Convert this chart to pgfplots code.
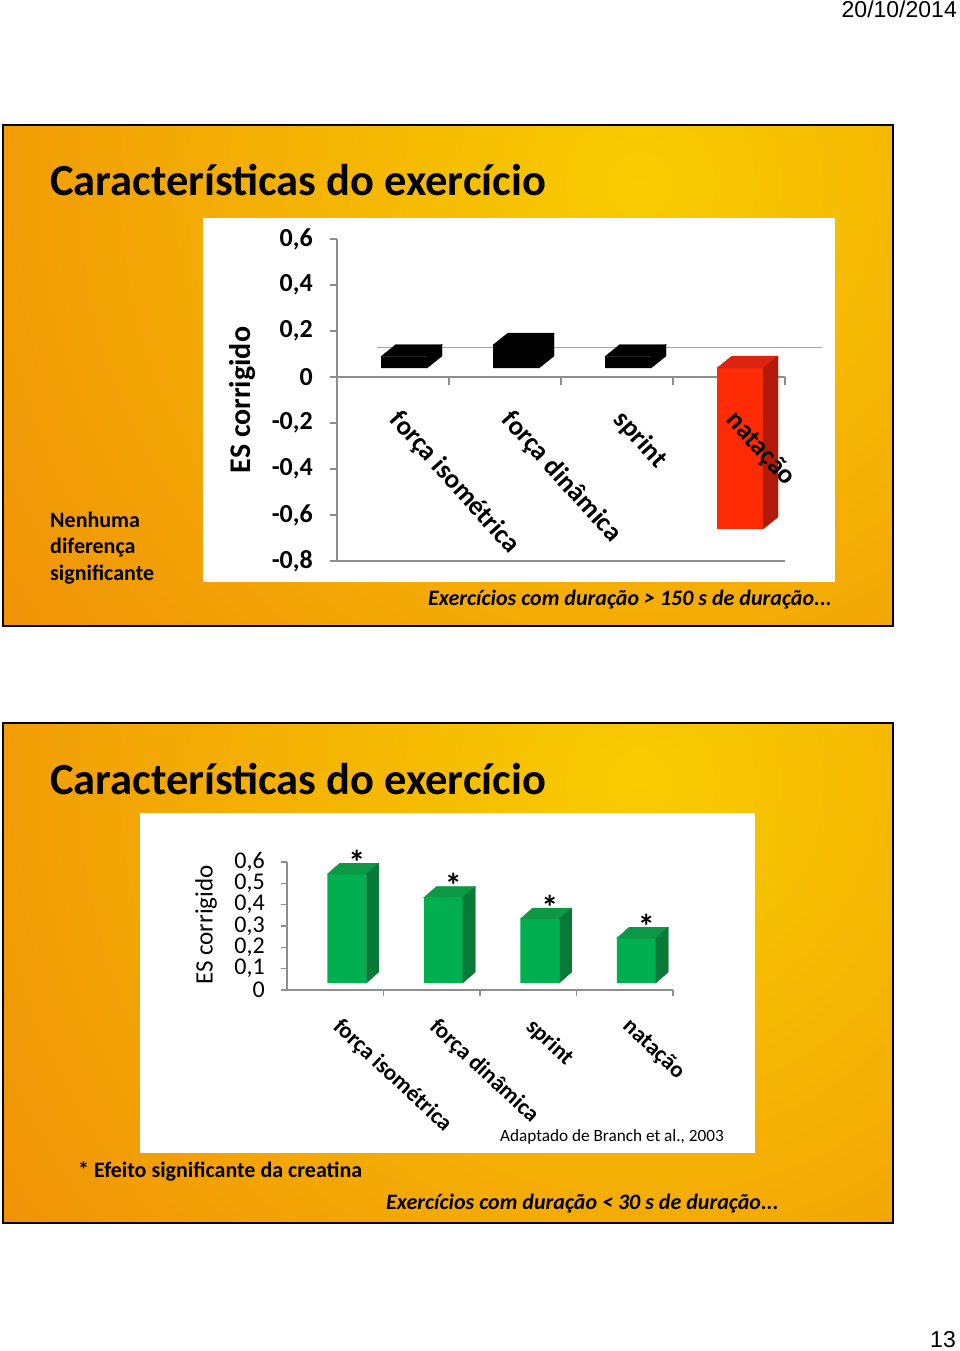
\documentclass[border=0pt]{standalone}
\usepackage{pgfplots}
\pgfplotsset{compat=1.18}
\usepackage{pgfplotstable}
\usepackage{fontspec}
\setmainfont{Carlito}
\newfontfamily\arialf{Liberation Sans}

\definecolor{orgA}{HTML}{EE820A}
\definecolor{yelA}{HTML}{F8CC00}
\definecolor{axgray}{HTML}{8E8E8E}
\definecolor{redF}{HTML}{FF2B05}
\definecolor{redT}{HTML}{DA2410}
\definecolor{redS}{HTML}{B21A08}
\definecolor{grnF}{HTML}{00B050}
\definecolor{grnT}{HTML}{0D9845}
\definecolor{grnS}{HTML}{077A37}

\pgfplotstableread{
x v
0 0.05
1 0.10
2 0.05
}\blackdata
\pgfplotstableread{
x v
3 -0.70
}\reddata
\pgfplotstableread{
x v
0 0.51
1 0.40
2 0.30
3 0.21
}\greendata

\pgfplotsset{
  box3d/.style n args={6}{%
    scatter, only marks, mark=*, mark size=0pt,
    mark options={draw=none, fill=none},
    visualization depends on={y \as \val},
    scatter/@pre marker code/.code={%
      \pgfmathsetmacro\hh{\val*#1}%
      \pgfmathsetmacro\topy{max(0,-\hh)}%
      \pgfmathsetmacro\boty{min(0,-\hh)}%
      \fill[#5] (-#2pt,\topy pt) -- (-#2pt+#3pt,\topy pt+#4pt)
        -- (#2pt+#3pt,\topy pt+#4pt) -- (#2pt,\topy pt) -- cycle;
      \fill[#6] (#2pt,\topy pt) -- (#2pt+#3pt,\topy pt+#4pt)
        -- (#2pt+#3pt,\boty pt+#4pt) -- (#2pt,\boty pt) -- cycle;
    },
    scatter/@post marker code/.code={},
  },
}

\begin{document}
\begin{tikzpicture}
\path[use as bounding box] (0pt,0pt) rectangle (960pt,-1351pt);
\begin{scope}[x=1pt,y=-1pt]
  % slide 1 background
  \begin{scope}
    \clip (3,125) rectangle (893,626);
    \fill[orgA] (3,125) rectangle (893,626);
    \shade[inner color=yelA, outer color=orgA] (640,185) circle (1000pt);
  \end{scope}
  \draw[black, line width=2pt] (3,125) rectangle (893,626);
  \fill[white] (203,218) rectangle (835,582);
  % slide 2 background
  \begin{scope}
    \clip (3,723) rectangle (893,1223);
    \fill[orgA] (3,723) rectangle (893,1223);
    \shade[inner color=yelA, outer color=orgA] (640,783) circle (1000pt);
  \end{scope}
  \draw[black, line width=2pt] (3,723) rectangle (893,1223);
  \fill[white] (140,813) rectangle (755,1153);
\end{scope}

% ---------- chart 1 ----------
\begin{axis}[
  at={(337pt,-561pt)}, anchor=south west,
  x=112pt, y=230pt,
  xmin=-0.5, xmax=3.5, ymin=-0.8, ymax=0.6,
  clip=false,
  axis x line=none, axis y line*=left,
  y axis line style={axgray, line width=1.3pt},
  ytick={-0.8,-0.6,-0.4,-0.2,0,0.2,0.4,0.6},
  yticklabels={{-0,8},{-0,6},{-0,4},{-0,2},0,{0,2},{0,4},{0,6}},
  xtick=\empty,
  tick align=outside, major tick length=7pt,
  ytick style={axgray, line width=1.3pt},
  yticklabel style={font=\bfseries\fontsize{26}{28}\selectfont, inner sep=0pt, xshift=-17pt},
]
\draw[axgray!80, line width=1pt] (axis cs:-0.14,0.13) -- (axis cs:3.83,0.13);
\draw[axgray, line width=1.3pt] (axis cs:-0.5,0) -- (axis cs:3.5,0);
\draw[axgray, line width=1.3pt] (axis cs:-0.5,-0.8) -- (axis cs:3.5,-0.8);
\pgfplotsinvokeforeach{0.5,1.5,2.5,3.5}{%
  \draw[axgray, line width=1.3pt] (axis cs:#1,0) -- ++(0pt,-8pt);
}
\addplot[box3d={230}{23}{15}{12}{black}{black}, xshift=11pt, yshift=9pt] table[x=x,y=v]{\blackdata};
\addplot[ybar, bar width=46pt, bar shift=0pt, fill=black, draw=none, xshift=11pt, yshift=9pt] table[x=x,y=v]{\blackdata};
\addplot[box3d={230}{23}{15}{12}{redT}{redS}, xshift=11pt, yshift=9pt] table[x=x,y=v]{\reddata};
\addplot[ybar, bar width=46pt, bar shift=0pt, fill=redF, draw=none, xshift=11pt, yshift=9pt] table[x=x,y=v]{\reddata};
\end{axis}

% ---------- chart 2 ----------
\begin{axis}[
  at={(287pt,-990pt)}, anchor=south west,
  x=96.5pt, y=213.3pt,
  xmin=-0.5, xmax=3.5, ymin=0, ymax=0.6,
  clip=false,
  axis x line=none, axis y line*=left,
  y axis line style={axgray, line width=1.3pt},
  ytick={0,0.1,0.2,0.3,0.4,0.5,0.6},
  yticklabels={0,{0,1},{0,2},{0,3},{0,4},{0,5},{0,6}},
  xtick=\empty,
  tick align=outside, major tick length=6pt,
  ytick style={axgray, line width=1.3pt},
  yticklabel style={font=\fontsize{24}{26}\selectfont, inner sep=0pt, xshift=-16pt},
]
\draw[axgray, line width=1.3pt] (axis cs:-0.5,0) -- (axis cs:3.5,0);
\pgfplotsinvokeforeach{0.5,1.5,2.5,3.5}{%
  \draw[axgray, line width=1.3pt] (axis cs:#1,0) -- ++(0pt,-6pt);
}
\addplot[box3d={213.3}{19.5}{12.5}{11}{grnT}{grnS}, xshift=11.5pt, yshift=7pt] table[x=x,y=v]{\greendata};
\addplot[ybar, bar width=39pt, bar shift=0pt, fill=grnF, draw=none, xshift=11.5pt, yshift=7pt,
  nodes near coords={*},
  every node near coord/.style={anchor=base, xshift=10pt, yshift=0pt, inner sep=0pt, font=\bfseries\fontsize{34}{36}\selectfont, text=black}]
  table[x=x,y=v]{\greendata};
\end{axis}

\begin{scope}[x=1pt,y=-1pt]
  % category labels chart 1
  \begin{scope}[every node/.style={rotate=-48, anchor=north west, inner sep=0pt, font=\bfseries\fontsize{27}{30}\selectfont}]
    \node at (403,408) {força isométrica};
    \node at (515,408) {força dinâmica};
    \node at (627,408) {sprint};
    \node at (739,408) {natação};
  \end{scope}
  % category labels chart 2
  \begin{scope}[every node/.style={rotate=-43, anchor=north west, inner sep=0pt, font=\bfseries\fontsize{23}{26}\selectfont}]
    \node at (343,1016) {força isométrica};
    \node at (439.5,1016) {força dinâmica};
    \node at (536,1016) {sprint};
    \node at (632.5,1016) {natação};
  \end{scope}
  \node[anchor=base east, inner sep=0pt, font=\arialf\fontsize{23}{26}\selectfont] at (957,18) {20/10/2014};
  \node[anchor=base east, inner sep=0pt, font=\arialf\fontsize{23}{26}\selectfont] at (956,1347) {13};
  \node[anchor=base west, inner sep=0pt, font=\bfseries\fontsize{44.5}{50}\selectfont] at (50,196) {Características do exercício};
  \node[anchor=base west, inner sep=0pt, font=\bfseries\fontsize{44.5}{50}\selectfont] at (50,794) {Características do exercício};
  \node[rotate=90, font=\bfseries\fontsize{30}{32}\selectfont] at (243,400) {ES corrigido};
  \node[rotate=90, font=\fontsize{25}{28}\selectfont] at (206,925) {ES corrigido};
  \node[anchor=base west, inner sep=0pt, font=\bfseries\fontsize{22}{26}\selectfont] at (50,527) {Nenhuma};
  \node[anchor=base west, inner sep=0pt, font=\bfseries\fontsize{22}{26}\selectfont] at (50,553) {diferença};
  \node[anchor=base west, inner sep=0pt, font=\bfseries\fontsize{22}{26}\selectfont] at (50,580) {significante};
  \node[anchor=base west, inner sep=0pt, font=\bfseries\itshape\fontsize{22}{26}\selectfont] at (428,605) {Exercícios com duração > 150 s de duração...};
  \node[anchor=base west, inner sep=0pt, font=\fontsize{17.2}{21}\selectfont] at (500,1141) {Adaptado de Branch et al., 2003};
  \node[anchor=base west, inner sep=0pt, font=\bfseries\fontsize{22}{26}\selectfont] at (78,1177) {* Efeito significante da creatina};
  \node[anchor=base west, inner sep=0pt, font=\bfseries\itshape\fontsize{22}{26}\selectfont] at (386,1209) {Exercícios com duração < 30 s de duração...};
\end{scope}
\end{tikzpicture}
\end{document}
